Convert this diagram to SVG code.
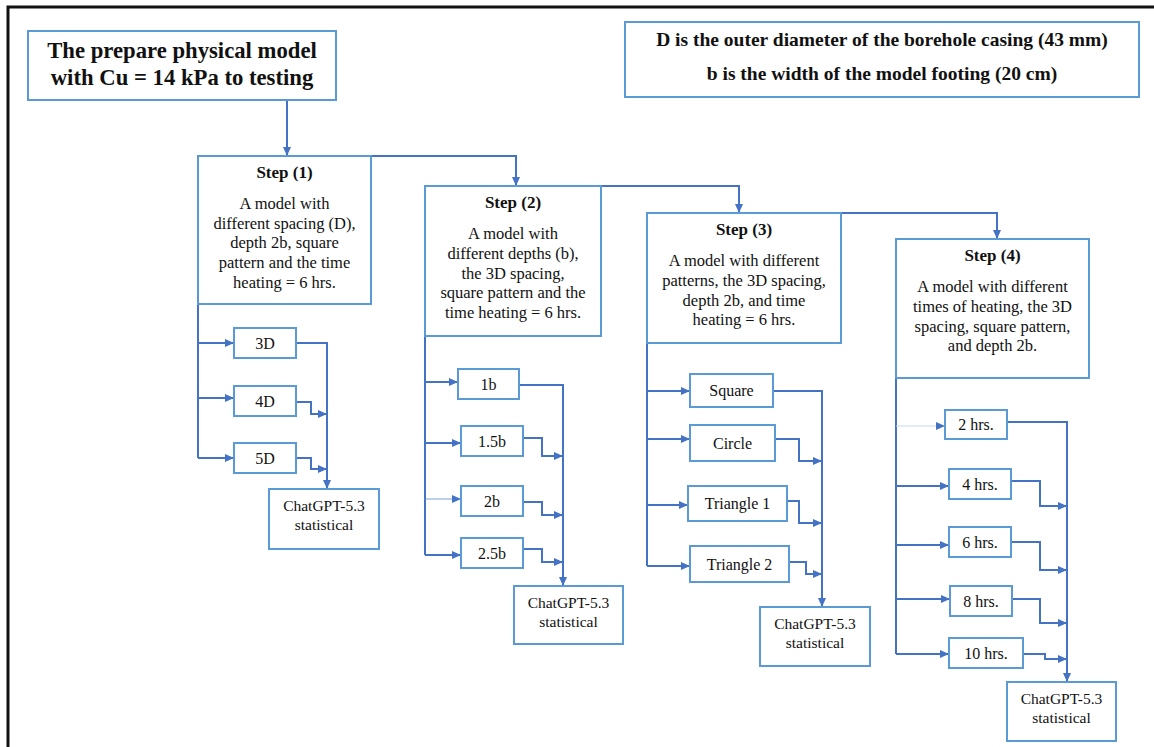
<svg xmlns="http://www.w3.org/2000/svg" width="1154" height="747" viewBox="0 0 1154 747">
<style>
.box{fill:#fff;stroke:#5B9BD5;stroke-width:2}
.con{fill:none;stroke:#4472C4;stroke-width:2}
.thin{fill:none;stroke:#7C9FDC;stroke-width:1}
.faint{fill:none;stroke:#C9D8F0;stroke-width:1}
text{font-family:"Liberation Serif","Times New Roman",serif;fill:#111;text-anchor:middle}
.title{font-size:22.7px;font-weight:bold}
.info{font-size:19.5px;font-weight:bold}
.step{font-size:17px;font-weight:bold}
.body{font-size:16.5px}
.lbl{font-size:16px}
.gpt{font-size:15.5px}
</style>
<defs>
<marker id="ah" viewBox="0 0 10 10" refX="10" refY="5" markerWidth="9" markerHeight="8" markerUnits="userSpaceOnUse" orient="auto" preserveAspectRatio="none">
<path d="M0,0 L10,5 L0,10 z" fill="#4472C4"/>
</marker>
</defs>
<rect x="0" y="0" width="1154" height="747" fill="#fff"/>
<rect x="8" y="7" width="1160" height="760" fill="none" stroke="#111" stroke-width="3"/>

<g id="connectors">
<path class="con" d="M287,100 V156" marker-end="url(#ah)"/>
<path class="con" d="M371,156 H516 V186" marker-end="url(#ah)"/>
<path class="con" d="M601,186 H739 V213" marker-end="url(#ah)"/>
<path class="con" d="M841,213 H997 V239" marker-end="url(#ah)"/>
<!-- step 1 -->
<path class="con" d="M198,304 V458"/>
<path class="con" d="M198,343 H234" marker-end="url(#ah)"/>
<path class="con" d="M198,398 H234" marker-end="url(#ah)"/>
<path class="con" d="M198,458 H234" marker-end="url(#ah)"/>
<path class="con" d="M296,343 H327 V489" marker-end="url(#ah)"/>
<path class="con" d="M296,402 H311 V414 H327" marker-end="url(#ah)"/>
<path class="con" d="M296,458 H311 V469 H327" marker-end="url(#ah)"/>
<!-- step 2 -->
<path class="con" d="M425,336 V555"/>
<path class="con" d="M425,382 H458" marker-end="url(#ah)"/>
<path class="con" d="M425,443 H461" marker-end="url(#ah)"/>
<path class="thin" d="M425,499 H461" marker-end="url(#ah)"/>
<path class="con" d="M425,555 H461" marker-end="url(#ah)"/>
<path class="con" d="M519,385 H563 V586" marker-end="url(#ah)"/>
<path class="con" d="M523,438 H542 V456 H563" marker-end="url(#ah)"/>
<path class="con" d="M523,502 H542 V515 H563" marker-end="url(#ah)"/>
<path class="con" d="M523,549 H542 V562 H563" marker-end="url(#ah)"/>
<!-- step 3 -->
<path class="con" d="M647,343 V566"/>
<path class="con" d="M647,391 H690" marker-end="url(#ah)"/>
<path class="con" d="M647,439 H690" marker-end="url(#ah)"/>
<path class="con" d="M647,505 H688" marker-end="url(#ah)"/>
<path class="con" d="M647,566 H690" marker-end="url(#ah)"/>
<path class="con" d="M773,391 H822 V607" marker-end="url(#ah)"/>
<path class="con" d="M775,439 H799 V461 H822" marker-end="url(#ah)"/>
<path class="con" d="M787,501 H799 V523 H822" marker-end="url(#ah)"/>
<path class="con" d="M789,562 H806 V574 H822" marker-end="url(#ah)"/>
<!-- step 4 -->
<path class="con" d="M896,378 V654"/>
<path class="faint" d="M896,426 H945" marker-end="url(#ah)"/>
<path class="con" d="M896,486 H949" marker-end="url(#ah)"/>
<path class="con" d="M896,545 H949" marker-end="url(#ah)"/>
<path class="con" d="M896,599 H950" marker-end="url(#ah)"/>
<path class="con" d="M896,654 H949" marker-end="url(#ah)"/>
<path class="con" d="M1007,422 H1067 V682" marker-end="url(#ah)"/>
<path class="con" d="M1011,481 H1040 V506 H1067" marker-end="url(#ah)"/>
<path class="con" d="M1011,542 H1040 V570 H1067" marker-end="url(#ah)"/>
<path class="con" d="M1012,599 H1040 V623 H1067" marker-end="url(#ah)"/>
<path class="con" d="M1023,654 H1045 V659 H1067" marker-end="url(#ah)"/>
</g>

<g id="title">
<rect class="box" x="28" y="31" width="308" height="69"/>
<text class="title" x="182" y="58">The prepare physical model</text>
<text class="title" x="182" y="85">with Cu = 14 kPa to testing</text>
</g>
<g id="info">
<rect class="box" x="625" y="22" width="514" height="75"/>
<text class="info" x="882" y="46">D is the outer diameter of the borehole casing (43 mm)</text>
<text class="info" x="882" y="80">b is the width of the model footing (20 cm)</text>
</g>

<g id="step1">
<rect class="box" x="198" y="156" width="173" height="148"/>
<text class="step" x="284.5" y="178">Step (1)</text>
<text class="body" x="284.5" y="209">A model with</text>
<text class="body" x="284.5" y="228.5">different spacing (D),</text>
<text class="body" x="284.5" y="248">depth 2b, square</text>
<text class="body" x="284.5" y="268">pattern and the time</text>
<text class="body" x="284.5" y="288">heating = 6 hrs.</text>
</g>
<g id="s1-3D"><rect class="box" x="234" y="328" width="62" height="30"/><text class="lbl" x="265" y="349">3D</text></g>
<g id="s1-4D"><rect class="box" x="234" y="386" width="62" height="30"/><text class="lbl" x="265" y="407">4D</text></g>
<g id="s1-5D"><rect class="box" x="234" y="443" width="62" height="30"/><text class="lbl" x="265" y="464">5D</text></g>
<g id="s1-gpt"><rect class="box" x="269" y="489" width="110" height="60"/><text class="gpt" x="324" y="511">ChatGPT-5.3</text><text class="gpt" x="324" y="530">statistical</text></g>

<g id="step2">
<rect class="box" x="425" y="186" width="176" height="150"/>
<text class="step" x="513" y="208">Step (2)</text>
<text class="body" x="513" y="239">A model with</text>
<text class="body" x="513" y="259">different depths (b),</text>
<text class="body" x="513" y="279">the 3D spacing,</text>
<text class="body" x="513" y="298">square pattern and the</text>
<text class="body" x="513" y="318">time heating = 6 hrs.</text>
</g>
<g id="s2-1b"><rect class="box" x="458" y="369" width="61" height="30"/><text class="lbl" x="488.5" y="390">1b</text></g>
<g id="s2-15b"><rect class="box" x="461" y="426" width="62" height="30"/><text class="lbl" x="492" y="447">1.5b</text></g>
<g id="s2-2b"><rect class="box" x="461" y="486" width="62" height="30"/><text class="lbl" x="492" y="507">2b</text></g>
<g id="s2-25b"><rect class="box" x="461" y="538" width="62" height="30"/><text class="lbl" x="492" y="559">2.5b</text></g>
<g id="s2-gpt"><rect class="box" x="514" y="586" width="109" height="58"/><text class="gpt" x="568.5" y="608">ChatGPT-5.3</text><text class="gpt" x="568.5" y="627">statistical</text></g>

<g id="step3">
<rect class="box" x="647" y="213" width="194" height="130"/>
<text class="step" x="744" y="235">Step (3)</text>
<text class="body" x="744" y="266">A model with different</text>
<text class="body" x="744" y="286">patterns, the 3D spacing,</text>
<text class="body" x="744" y="306">depth 2b, and time</text>
<text class="body" x="744" y="325">heating = 6 hrs.</text>
</g>
<g id="s3-square"><rect class="box" x="690" y="374" width="83" height="33"/><text class="lbl" x="731.5" y="396">Square</text></g>
<g id="s3-circle"><rect class="box" x="690" y="425" width="85" height="36"/><text class="lbl" x="732.5" y="449">Circle</text></g>
<g id="s3-tri1"><rect class="box" x="688" y="486" width="99" height="35"/><text class="lbl" x="737.5" y="509">Triangle 1</text></g>
<g id="s3-tri2"><rect class="box" x="690" y="546" width="99" height="36"/><text class="lbl" x="739.5" y="570">Triangle 2</text></g>
<g id="s3-gpt"><rect class="box" x="760" y="607" width="110" height="59"/><text class="gpt" x="815" y="629">ChatGPT-5.3</text><text class="gpt" x="815" y="648">statistical</text></g>

<g id="step4">
<rect class="box" x="896" y="239" width="193" height="139"/>
<text class="step" x="992.5" y="261">Step (4)</text>
<text class="body" x="992.5" y="292">A model with different</text>
<text class="body" x="992.5" y="312">times of heating, the 3D</text>
<text class="body" x="992.5" y="332">spacing, square pattern,</text>
<text class="body" x="992.5" y="351">and depth 2b.</text>
</g>
<g id="s4-2h"><rect class="box" x="945" y="410" width="62" height="29"/><text class="lbl" x="976" y="430">2 hrs.</text></g>
<g id="s4-4h"><rect class="box" x="949" y="469" width="62" height="30"/><text class="lbl" x="980" y="490">4 hrs.</text></g>
<g id="s4-6h"><rect class="box" x="949" y="527" width="62" height="30"/><text class="lbl" x="980" y="548">6 hrs.</text></g>
<g id="s4-8h"><rect class="box" x="950" y="586" width="62" height="30"/><text class="lbl" x="981" y="607">8 hrs.</text></g>
<g id="s4-10h"><rect class="box" x="949" y="638" width="74" height="30"/><text class="lbl" x="986" y="659">10 hrs.</text></g>
<g id="s4-gpt"><rect class="box" x="1007" y="682" width="109" height="59"/><text class="gpt" x="1061.5" y="704">ChatGPT-5.3</text><text class="gpt" x="1061.5" y="723">statistical</text></g>
</svg>
